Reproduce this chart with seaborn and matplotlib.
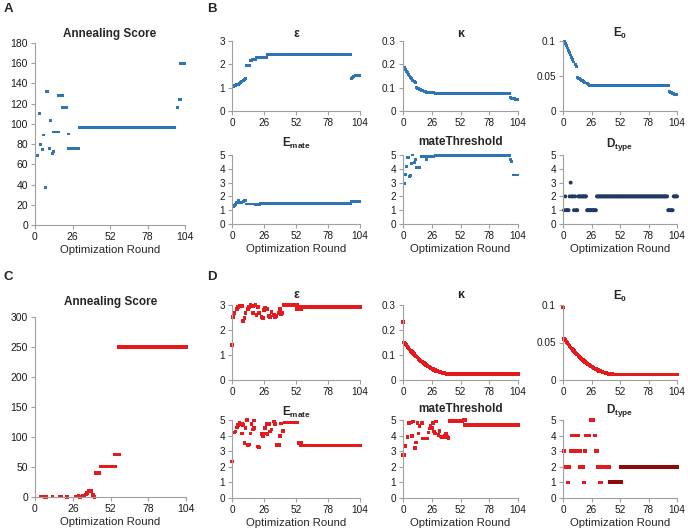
import numpy as np
import pandas as pd
import matplotlib
matplotlib.use("Agg")
import matplotlib.pyplot as plt
import seaborn as sns

# ── Colours ────────────────────────────────────────────────────────────────────
BLUE = "#2E75B6"
NAVY = "#1F3864"
RED = "#E41A1C"
DARKRED = "#8B0A0A"

# ── Data: (first round, last round, value) runs ───────────────────────────────
# top block (A, B)
a_score = [(2, 2, 69), (3, 3, 110), (4, 4, 80), (5, 5, 75), (6, 6, 89), (7, 7, 37),
           (8, 9, 132), (10, 10, 76), (11, 11, 103), (12, 12, 71), (13, 13, 72.5),
           (13, 16, 92), (16, 19, 128), (19, 22, 116), (23, 23, 90), (23, 30, 75.5),
           (31, 97, 96), (99, 99, 116), (100, 101, 124.5), (101, 104, 160)]

b_eps_early = [1.07, 1.08, 1.10, 1.12, 1.15, 1.18, 1.22, 1.26, 1.30, 1.35, 1.39]
b_eps = [(12, 14, 1.95), (15, 16, 2.16), (17, 19, 2.2), (20, 28, 2.29), (29, 96, 2.42),
         (97, 97, 1.38), (98, 98, 1.45), (99, 99, 1.49), (100, 104, 1.52)]

b_kappa_early = [0.185, 0.178, 0.170, 0.163, 0.156, 0.150, 0.144, 0.138, 0.132, 0.127, 0.121,
                 0.100, 0.098, 0.096, 0.093, 0.091, 0.089, 0.087, 0.085, 0.083, 0.081]
b_kappa = [(22, 28, 0.078), (29, 96, 0.075), (97, 97, 0.056), (98, 98, 0.054),
           (99, 101, 0.052), (102, 104, 0.050)]

b_e0_early = [0.099, 0.096, 0.093, 0.090, 0.086, 0.083, 0.080, 0.076, 0.073, 0.070, 0.066, 0.063,
              0.048, 0.047, 0.046, 0.045, 0.044, 0.043, 0.042, 0.041, 0.040, 0.039, 0.038]
b_e0 = [(24, 30, 0.037), (31, 96, 0.036), (97, 97, 0.028), (98, 98, 0.027), (99, 99, 0.026),
        (100, 101, 0.025), (102, 104, 0.024)]

b_emate_early = [1.27, 1.35, 1.42, 1.55, 1.68, 1.55, 1.55, 1.55, 1.62, 1.67, 1.68]
b_emate = [(12, 18, 1.45), (19, 22, 1.40), (23, 96, 1.50), (97, 104, 1.65)]

b_thresh_early = [2.95, 3.6, 4.2, 4.8, 4.8, 3.45, 3.5, 4.4, 5.0, 4.45, 4.7, 4.1, 4.1, 4.1, 4.1]
b_thresh = [(17, 20, 4.9), (21, 21, 4.7), (22, 28, 4.9), (29, 96, 4.95), (97, 97, 4.7),
            (98, 98, 4.5), (100, 104, 3.55)]

b_dtype_early = [1, 2, 1, 1, 1, 2, 3, 2, 2, 1, 2, 1, 1, 2, 2, 2, 2, 2, 2, 2, 2,
                 1, 1, 1, 1, 1, 1, 1, 1, 1]
b_dtype = [(31, 95, 2), (96, 100, 1), (101, 104, 2)]

# bottom block (C, D)
c_score = [(4, 5, 0.5), (7, 8, 0), (12, 12, 0.5), (17, 18, 0.5), (22, 22, 0),
           (28, 28, 1), (30, 30, 2), (31, 31, 0), (33, 33, 2), (34, 34, 1), (35, 35, 4),
           (36, 36, 7), (37, 39, 10), (40, 40, 3), (41, 41, 0), (42, 44, 40),
           (45, 55, 50.5), (55, 58, 71), (58, 104, 250)]

d_eps = [(0, 0, 1.4), (1, 1, 2.53), (2, 2, 2.69), (4, 4, 2.83), (5, 5, 2.93), (6, 6, 2.97),
         (8, 8, 2.96), (9, 9, 2.37), (10, 10, 2.47), (11, 11, 2.69), (13, 13, 2.83),
         (14, 14, 2.93), (15, 15, 3.0), (17, 17, 2.96), (17, 17, 2.67), (19, 19, 3.0),
         (20, 20, 2.6), (21, 21, 2.93), (22, 22, 2.67), (24, 24, 2.53), (25, 25, 2.49),
         (26, 26, 2.8), (27, 27, 2.87), (29, 29, 2.83), (30, 30, 2.56), (31, 31, 2.53),
         (32, 32, 2.73), (34, 34, 2.6), (35, 35, 2.53), (36, 36, 2.56), (38, 38, 2.67),
         (39, 39, 2.83), (40, 40, 2.64), (41, 41, 2.67), (42, 53, 3.0), (53, 56, 2.83),
         (56, 104, 2.93)]

d_kappa_curve = [0.150, 0.144, 0.139, 0.133, 0.128, 0.122, 0.117, 0.112, 0.108, 0.103,
                 0.098, 0.094, 0.090, 0.085, 0.081, 0.077, 0.074, 0.070, 0.067, 0.063,
                 0.060, 0.057, 0.054, 0.051, 0.049, 0.046, 0.044, 0.041, 0.039, 0.037,
                 0.036, 0.034, 0.032, 0.031, 0.030, 0.028, 0.027, 0.026, 0.026, 0.025,
                 0.025, 0.024]
d_kappa = [(0, 0, 0.231), (43, 104, 0.024)]

d_e0_curve = [0.0550, 0.0530, 0.0510, 0.0491, 0.0472, 0.0454, 0.0436, 0.0419, 0.0402, 0.0385,
              0.0369, 0.0353, 0.0338, 0.0323, 0.0309, 0.0295, 0.0281, 0.0268, 0.0256, 0.0243,
              0.0232, 0.0220, 0.0209, 0.0199, 0.0189, 0.0179, 0.0170, 0.0161, 0.0153, 0.0145,
              0.0137, 0.0130, 0.0123, 0.0117, 0.0111, 0.0106, 0.0101, 0.0097, 0.0092, 0.0089,
              0.0086, 0.0083, 0.0080, 0.0078, 0.0077, 0.0076, 0.0075]
d_e0 = [(0, 0, 0.0966), (48, 104, 0.0075)]

d_emate = [(0, 0, 2.34), (2, 2, 4.19), (3, 3, 4.25), (4, 4, 4.53), (5, 5, 4.68), (6, 6, 4.83),
           (8, 8, 4.75), (8, 8, 4.14), (9, 9, 4.68), (10, 10, 3.51), (11, 11, 4.47),
           (12, 12, 5.0), (13, 13, 3.40), (14, 14, 3.44), (15, 15, 4.14), (16, 16, 4.75),
           (17, 17, 4.4), (18, 18, 4.47), (18, 18, 4.96), (21, 21, 3.3), (22, 22, 3.25),
           (24, 24, 4.1), (25, 25, 3.97), (26, 26, 4.14), (27, 27, 4.47), (28, 28, 4.75),
           (29, 29, 4.1), (30, 30, 4.75), (31, 31, 4.25), (32, 32, 4.4), (34, 34, 4.9),
           (35, 35, 4.75), (36, 38, 3.4), (39, 39, 3.97), (40, 40, 4.79), (41, 42, 4.3),
           (43, 53, 4.83), (54, 56, 3.51), (56, 104, 3.36)]

d_thresh = [(0, 1, 2.76), (2, 2, 3.34), (4, 4, 3.9), (5, 6, 4.8), (7, 7, 4.83), (8, 8, 3.96),
            (9, 9, 4.9), (11, 11, 3.2), (12, 12, 3.56), (13, 13, 4.8), (14, 14, 4.14),
            (15, 15, 4.6), (17, 17, 4.8), (18, 19, 3.8), (21, 22, 3.8), (23, 23, 4.2),
            (24, 24, 4.45), (25, 25, 4.66), (26, 26, 4.5), (27, 27, 4.8), (28, 28, 4.26),
            (29, 29, 4.14), (30, 30, 4.9), (32, 32, 4.05), (33, 33, 4.3), (34, 34, 3.95),
            (35, 37, 3.9), (38, 38, 4.0), (39, 39, 4.14), (40, 40, 3.9), (41, 41, 3.85),
            (42, 54, 4.93), (55, 56, 5.0), (56, 104, 4.68)]

d_dtype_early = [3, 2, 2, 1, 1, 2, 3, 4, 3, 4, 3, 4, 3, 4, 2, 3, 2, 2, 1, 3, 4,
                 4, 4, 4, 5, 5, 5, 5, 4, 3, 3, 2, 2, 1, 1, 2, 2, 2, 2, 2, 2, 2]
d_dtype_late = [(43, 53, 1), (53, 104, 2)]


def frame(runs, early=None, start=1):
    rows = []
    if early is not None:
        rows += [(start + i, v) for i, v in enumerate(early)]
    for r0, r1, v in runs:
        rows += [(r, v) for r in range(r0, r1 + 1)]
    return pd.DataFrame(rows, columns=["round", "value"])


# ── Style ──────────────────────────────────────────────────────────────────────
sns.set_theme(style="ticks")
plt.rcParams["font.family"] = ["Liberation Sans", "DejaVu Sans"]
plt.rcParams["mathtext.fontset"] = "custom"
plt.rcParams["mathtext.rm"] = "Liberation Sans"
plt.rcParams["mathtext.bf"] = "Liberation Sans:bold"

W, H = 688, 532
fig = plt.figure(figsize=(W / 100, H / 100), dpi=100)


def panel(x0, x1, top, bottom, title, ytop, ystep, layers, pad,
          xlabel=False, tsize=8.5, ticksize=7.2):
    ax = fig.add_axes([x0 / W, 1 - bottom / H, (x1 - x0) / W, (bottom - top) / H])
    for df, color, marker, size in layers:
        sns.scatterplot(data=df, x="round", y="value", ax=ax, color=color,
                        marker=marker, s=size, linewidth=0, edgecolor="none",
                        clip_on=False, legend=False)
    ax.set_xlim(0, 104)
    ax.set_ylim(0, ytop)
    ax.set_xticks([0, 26, 52, 78, 104])
    yt = np.round(np.arange(0, ytop + ystep / 2, ystep), 4)
    ax.set_yticks(yt)
    ax.set_yticklabels([f"{v:g}" for v in yt])
    ax.tick_params(length=3, width=0.8, color="#A0A0A0", labelsize=ticksize,
                   labelcolor="#1A1A1A", pad=2)
    sns.despine(ax=ax)
    for side in ["left", "bottom"]:
        ax.spines[side].set_color("#A0A0A0")
        ax.spines[side].set_linewidth(0.8)
    ax.set_title(title, fontsize=tsize, fontweight="bold", pad=pad)
    ax.set_xlabel("Optimization Round" if xlabel else "", fontsize=8.2, labelpad=2)
    ax.set_ylabel("")
    return ax


cols = [(232, 360), (403, 518), (563, 677)]
BS, RS = 4.5, 6.5  # marker areas for blue and red series

# A
panel(35, 185, 43, 225, "Annealing Score", 180, 20,
      [(frame(a_score), BLUE, "s", BS)], 4.5, xlabel=True, ticksize=7.5)

# B
panel(*cols[0], 41, 111, "ε", 3, 1, [(frame(b_eps, b_eps_early), BLUE, "s", BS)], 3.2, tsize=9)
panel(*cols[1], 41, 111, "κ", 0.3, 0.1, [(frame(b_kappa, b_kappa_early), BLUE, "s", BS)], 3.2,
      tsize=9)
panel(*cols[2], 41, 111, r"$\mathbf{E_0}$", 0.1, 0.05,
      [(frame(b_e0, b_e0_early), BLUE, "s", BS)], 3.2)
panel(*cols[0], 155, 224, r"$\mathbf{E_{mate}}$", 5, 1,
      [(frame(b_emate, b_emate_early), BLUE, "s", BS)], 6, xlabel=True)
panel(*cols[1], 155, 224, "mateThreshold", 5, 1,
      [(frame(b_thresh, b_thresh_early), BLUE, "s", BS)], 7, xlabel=True)
panel(*cols[2], 155, 224, r"$\mathbf{D_{type}}$", 5, 1,
      [(frame(b_dtype, b_dtype_early), NAVY, "o", 8)], 6, xlabel=True)

# C
panel(35, 186, 317, 497, "Annealing Score", 300, 50,
      [(frame(c_score), RED, "s", RS)], 8.5, xlabel=True, ticksize=7.5)

# D
panel(*cols[0], 305, 380, "ε", 3, 1, [(frame(d_eps), RED, "s", RS)], 5, tsize=9)
panel(*cols[1], 305, 380, "κ", 0.3, 0.1,
      [(frame(d_kappa, d_kappa_curve), RED, "s", RS)], 5, tsize=9)
panel(*cols[2], 305, 380, r"$\mathbf{E_0}$", 0.1, 0.05,
      [(frame(d_e0, d_e0_curve), RED, "s", RS)], 4)
panel(*cols[0], 420, 498, r"$\mathbf{E_{mate}}$", 5, 1, [(frame(d_emate), RED, "s", RS)], 3,
      xlabel=True)
panel(*cols[1], 420, 498, "mateThreshold", 5, 1, [(frame(d_thresh), RED, "s", RS)], 6,
      xlabel=True)
panel(*cols[2], 420, 498, r"$\mathbf{D_{type}}$", 5, 1,
      [(frame([], d_dtype_early), RED, "s", RS), (frame(d_dtype_late), DARKRED, "s", 9)], 5,
      xlabel=True)

# panel letters
for letter, x, y in [("A", 4, 9), ("B", 207, 9), ("C", 4, 277), ("D", 207, 277)]:
    fig.text(x / W, 1 - y / H, letter, fontsize=9.5, fontweight="bold", va="center", ha="left")

fig.savefig("out.png", dpi=100)
